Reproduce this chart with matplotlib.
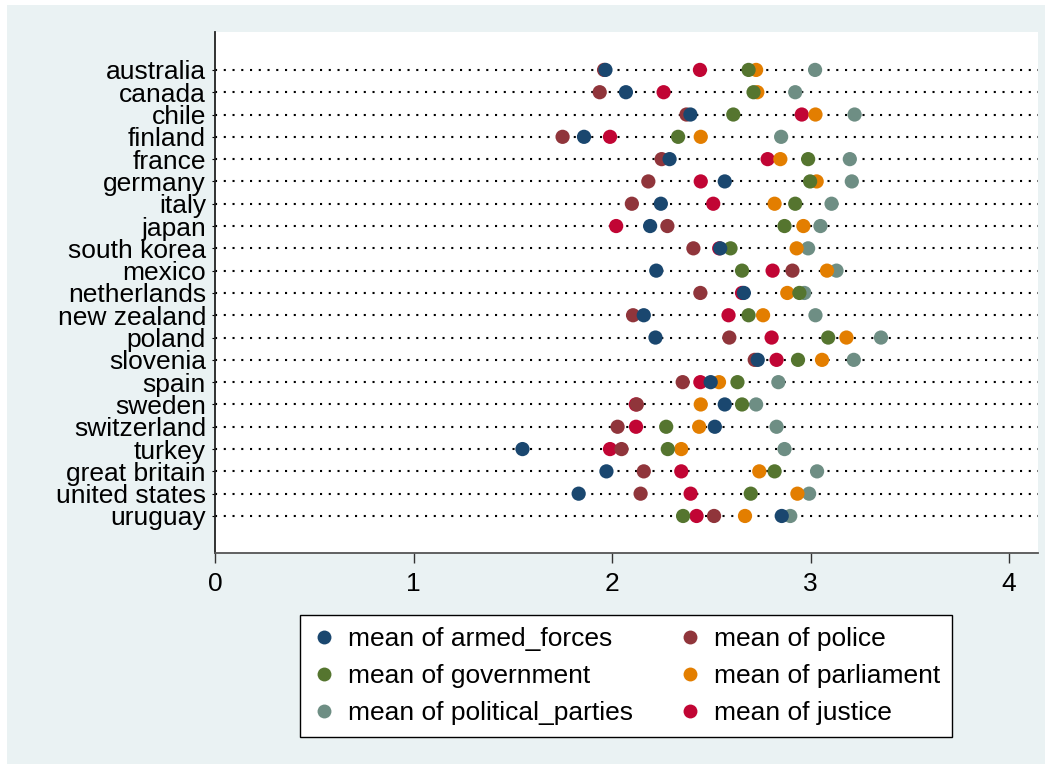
import matplotlib.pyplot as plt
from matplotlib.patches import Rectangle
from matplotlib.lines import Line2D

plt.rcParams["font.family"] = ["Liberation Sans", "DejaVu Sans"]

countries = ["australia", "canada", "chile", "finland", "france", "germany",
             "italy", "japan", "south korea", "mexico", "netherlands",
             "new zealand", "poland", "slovenia", "spain", "sweden",
             "switzerland", "turkey", "great britain", "united states", "uruguay"]

armed_forces = [1.967, 2.070, 2.395, 1.859, 2.290, 2.568, 2.246, 2.192, 2.545,
                2.223, 2.664, 2.160, 2.219, 2.734, 2.497, 2.568, 2.518, 1.549,
                1.972, 1.832, 2.855]
police = [1.960, 1.938, 2.375, 1.751, 2.250, 2.183, 2.100, 2.279, 2.410,
          2.909, 2.445, 2.106, 2.591, 2.719, 2.356, 2.125, 2.028, 2.048,
          2.160, 2.144, 2.514]
government = [2.688, 2.713, 2.611, 2.333, 2.988, 2.998, 2.923, 2.869, 2.597,
              2.655, 2.944, 2.688, 3.089, 2.937, 2.632, 2.655, 2.273, 2.281,
              2.819, 2.699, 2.358]
parliament = [2.726, 2.732, 3.025, 2.447, 2.848, 3.031, 2.819, 2.964, 2.930,
              3.083, 2.883, 2.761, 3.181, 3.058, 2.539, 2.447, 2.439, 2.349,
              2.742, 2.934, 2.670]
political_parties = [3.023, 2.923, 3.222, 2.852, 3.198, 3.208, 3.106, 3.050,
                     2.988, 3.131, 2.969, 3.025, 3.355, 3.218, 2.838, 2.726,
                     2.829, 2.869, 3.033, 2.993, 2.898]
justice = [2.443, 2.260, 2.956, 1.990, 2.784, 2.447, 2.510, 2.021, 2.540,
           2.809, 2.655, 2.587, 2.804, 2.829, 2.445, 2.120, 2.121, 1.990,
           2.349, 2.396, 2.426]

series = [
    ("mean of armed_forces", armed_forces, "#1a476f"),
    ("mean of police", police, "#90353b"),
    ("mean of government", government, "#55752f"),
    ("mean of parliament", parliament, "#e37e00"),
    ("mean of political_parties", political_parties, "#6e8e84"),
    ("mean of justice", justice, "#c10534"),
]

W, H = 1052, 769
fig = plt.figure(figsize=(W / 100, H / 100), dpi=100)
fig.patch.set_facecolor("white")
fig.patches.append(Rectangle((7 / W, 1 - 764 / H), 1038 / W, 759 / H,
                             transform=fig.transFigure, facecolor="#eaf2f3",
                             edgecolor="none", zorder=-10))

ax = fig.add_axes([215 / W, 1 - 553 / H, 823 / W, 521 / H])
ax.set_facecolor("white")

ypos = list(range(len(countries)))
for y in ypos:
    ax.axhline(y, color="black", lw=1.5, linestyle=(0, (1, 3.2)),
               dash_capstyle="butt", zorder=1)

# stata draws later variables underneath, first one on top
n = len(series)
for i, (label, vals, col) in enumerate(series):
    ax.scatter(vals, ypos, s=105, color=col, edgecolors="none",
               zorder=10 + n - i, label=label)

ax.set_xlim(0, 4.146)
ax.set_ylim(len(countries) - 1 + 1.66, -1.70)
ax.set_xticks([0, 1, 2, 3, 4])
ax.set_yticks(ypos)
ax.set_yticklabels(countries)
ax.tick_params(axis="x", length=7.5, width=1, color="#333333", pad=6,
               labelsize=19)
ax.tick_params(axis="y", length=2.5, width=0.8, pad=4, labelsize=19)
for side in ["top", "right"]:
    ax.spines[side].set_visible(False)
ax.spines["left"].set_color("#222222")
ax.spines["left"].set_linewidth(1.3)
ax.spines["bottom"].set_color("#555555")
ax.spines["bottom"].set_linewidth(1.3)

# legend filled row by row like stata: reorder for matplotlib's column fill
order = [0, 2, 4, 1, 3, 5]
handles = [Line2D([], [], marker="o", linestyle="none", markersize=10,
                  markerfacecolor=series[k][2], markeredgecolor="none")
           for k in order]
labels = [series[k][0] for k in order]
leg = fig.legend(handles, labels, ncol=2, loc="lower left",
                 bbox_to_anchor=(300 / W, 1 - 737 / H, 652 / W, 124 / H),
                 mode="expand", borderaxespad=0, fontsize=19,
                 frameon=True, fancybox=False, framealpha=1,
                 handlelength=0.9, handletextpad=0.45, labelspacing=0.5,
                 borderpad=0.45, columnspacing=1.0)
leg.get_frame().set_edgecolor("black")
leg.get_frame().set_linewidth(1.0)

fig.savefig("out.png", dpi=100, facecolor=fig.get_facecolor())
